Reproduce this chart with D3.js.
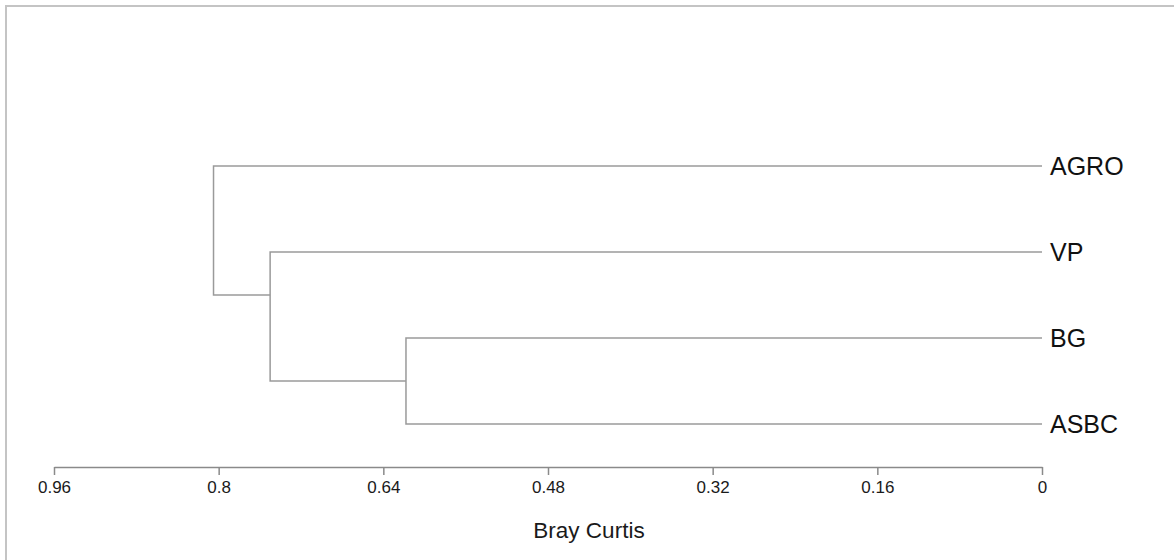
<!DOCTYPE html>
<html>
<head>
<meta charset="utf-8">
<script src="https://cdn.jsdelivr.net/npm/d3@7"></script>
<style>
  html, body { margin: 0; padding: 0; background: #fff; }
  svg { display: block; }
</style>
</head>
<body>
<script>
// Leaf order, top to bottom
const leaves = ["AGRO", "VP", "BG", "ASBC"];
// Merges: [left child, right child, Bray-Curtis distance]
const merges = [
  ["BG", "ASBC", 0.618],
  ["VP", "BG+ASBC", 0.750],
  ["AGRO", "VP+BG+ASBC", 0.805]
];
const tickValues = [0.96, 0.8, 0.64, 0.48, 0.32, 0.16, 0];
const axisTitle = "Bray Curtis";

const W = 1174, H = 560;
const svg = d3.select("body").append("svg").attr("width", W).attr("height", H);

// Frame
svg.append("path")
  .attr("d", `M6,${H} V6 H${W}`)
  .attr("fill", "none").attr("stroke", "#c4c4c4").attr("stroke-width", 2);

const x = d3.scaleLinear().domain([0.96, 0]).range([54, 1042]);
const y = d3.scalePoint().domain(leaves).range([166, 424]);

// Node positions: leaves sit at their row; a cluster joins at the
// midpoint of the first leaf of each of its two children.
const nodes = {};
leaves.forEach(l => { nodes[l] = { y: y(l), h: 0, first: y(l) }; });
merges.forEach(([a, b, h]) => {
  const A = nodes[a], B = nodes[b];
  nodes[a + "+" + b] = { y: (A.first + B.first) / 2, h, first: Math.min(A.first, B.first), a: A, b: B };
});

const lineColor = "#9a9a9a";
const g = svg.append("g").attr("fill", "none").attr("stroke", lineColor).attr("stroke-width", 1.5);
merges.forEach(([a, b]) => {
  const n = nodes[a + "+" + b];
  [n.a, n.b].forEach(c => {
    g.append("path")
      .attr("d", `M${x(n.h)},${n.y} V${c.y} H${x(c.h)}`);
  });
});

// Leaf labels
svg.append("g").selectAll("text").data(leaves).join("text")
  .attr("x", x(0) + 8)
  .attr("y", d => y(d))
  .attr("dy", "0.36em")
  .attr("font-family", "Liberation Sans, Arial, sans-serif")
  .attr("font-size", 25)
  .attr("fill", "#111")
  .text(d => d);

// Axis
const axis = d3.axisBottom(x).tickValues(tickValues).tickSize(8).tickPadding(6)
  .tickFormat(d => String(d)).tickSizeOuter(0);
const ag = svg.append("g").attr("transform", "translate(0,467)").call(axis);
ag.select(".domain").attr("stroke", "#8a8a8a").attr("stroke-width", 1.5);
ag.selectAll(".tick line").attr("stroke", "#8a8a8a").attr("stroke-width", 1.5);
ag.selectAll(".tick text")
  .attr("font-family", "Liberation Sans, Arial, sans-serif")
  .attr("font-size", 17)
  .attr("fill", "#1a1a1a");

svg.append("text")
  .attr("x", 589)
  .attr("y", 538)
  .attr("text-anchor", "middle")
  .attr("font-family", "Liberation Sans, Arial, sans-serif")
  .attr("font-size", 22.5)
  .attr("fill", "#1a1a1a")
  .text(axisTitle);
</script>
</body>
</html>
